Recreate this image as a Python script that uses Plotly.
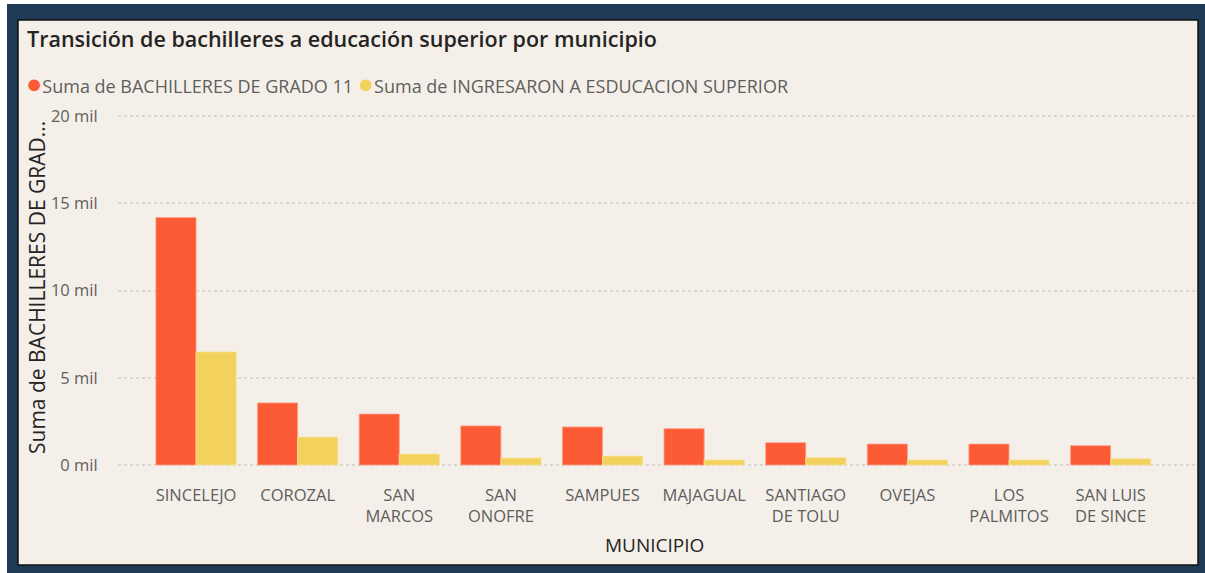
import plotly.graph_objects as go

municipios = ["SINCELEJO", "COROZAL", "SAN MARCOS", "SAN ONOFRE", "SAMPUES", "MAJAGUAL",
              "SANTIAGO DE TOLU", "OVEJAS", "LOS PALMITOS", "SAN LUIS DE SINCE"]
tick_labels = ["SINCELEJO", "COROZAL", "SAN<br>MARCOS", "SAN<br>ONOFRE", "SAMPUES", "MAJAGUAL",
               "SANTIAGO<br>DE TOLU", "OVEJAS", "LOS<br>PALMITOS", "SAN LUIS<br>DE SINCE"]
bachilleres = [14180, 3560, 2920, 2240, 2180, 2080, 1280, 1200, 1200, 1110]
ingresaron = [6480, 1600, 630, 400, 510, 290, 420, 290, 290, 360]
y_ticks = [0, 5000, 10000, 15000, 20000]
y_tick_text = ["0 mil", "5 mil", "10 mil", "15 mil", "20 mil"]

RED = "#FD5A36"
YEL = "#F2D15C"
BEIGE = "#F4F0E9"
NAVY = "#1F3A56"
FONT = "Open Sans"

W, H = 1205, 573
PADPX = 4
L, R, T, B = 118, 10, 116 - PADPX, 108 - PADPX
PW, PH = W - L - R, H - T - B
unit = 20000 / 349.0


def px(x):
    return (x - L) / PW


def py(y):
    return (H - B - y) / PH


fig = go.Figure()
fig.add_trace(go.Bar(x=municipios, y=bachilleres, name="Suma de BACHILLERES DE GRADO 11",
                     marker=dict(color=RED, line=dict(color="#FDA08A", width=0.8)), showlegend=False))
fig.add_trace(go.Bar(x=municipios, y=ingresaron, name="Suma de INGRESARON A ESDUCACION SUPERIOR",
                     marker=dict(color=YEL, line=dict(color="#F7E39A", width=0.8)), showlegend=False))

shapes = [
    dict(type="rect", xref="paper", yref="paper", x0=px(7), x1=px(1205), y0=py(573), y1=py(4),
         fillcolor=NAVY, line=dict(width=0), layer="below"),
    dict(type="rect", xref="paper", yref="paper", x0=px(18), x1=px(1198), y0=py(565), y1=py(20),
         fillcolor=BEIGE, line=dict(color="#111111", width=1.5), layer="below"),
]

annotations = [
    dict(xref="paper", yref="paper", x=px(25), y=py(38), xanchor="left", yanchor="middle",
         text="Transición de bachilleres a educación superior por municipio", showarrow=False,
         font=dict(family=FONT, size=21.5, color="#252423", weight=600)),
    dict(xref="paper", yref="paper", x=px(24), y=py(82), xanchor="left", yanchor="middle",
         text=f"<span style='color:{RED};font-size:27px'>●</span>Suma de BACHILLERES DE GRADO 11 "
              f"<span style='color:{YEL};font-size:27px'>●</span>Suma de INGRESARON A ESDUCACION SUPERIOR",
         showarrow=False, font=dict(family=FONT, size=18, color="#605E5C")),
    dict(xref="paper", yref="paper", x=px(37), y=py(288), xanchor="center", yanchor="middle",
         text="Suma de BACHILLERES DE GRAD...", textangle=-90, showarrow=False,
         font=dict(family=FONT, size=21, color="#252423")),
    dict(xref="paper", yref="paper", x=px(654), y=py(545), xanchor="center", yanchor="middle",
         text="MUNICIPIO", showarrow=False, font=dict(family=FONT, size=19, color="#252423", weight=500)),
]

fig.update_layout(
    width=W, height=H, autosize=False,
    margin=dict(l=L, r=R, t=T, b=B, pad=0),
    paper_bgcolor="white", plot_bgcolor="rgba(0,0,0,0)",
    barmode="group", bargap=0.21, bargroupgap=0,
    shapes=shapes, annotations=annotations,
    font=dict(family=FONT),
    xaxis=dict(type="category", range=[-0.768, 9.83], tickmode="array", tickvals=municipios,
               ticktext=tick_labels, showgrid=False, zeroline=False, showline=False,
               ticks="outside", ticklen=15 - PADPX, tickcolor="rgba(0,0,0,0)",
               tickfont=dict(family=FONT, size=16.5, color="#605E5C")),
    yaxis=dict(range=[-PADPX * unit, 20000 + PADPX * unit], tickmode="array", tickvals=y_ticks,
               ticktext=y_tick_text,
               showgrid=True, gridcolor="#DAD7D0", griddash="dot", gridwidth=1.5,
               zeroline=False, showline=False, ticks="outside", ticklen=16,
               tickcolor="rgba(0,0,0,0)", tickfont=dict(family=FONT, size=16.5, color="#605E5C")),
)

fig.write_html("out.html", config={"displayModeBar": False},
               post_script="document.body.style.margin='0';")
